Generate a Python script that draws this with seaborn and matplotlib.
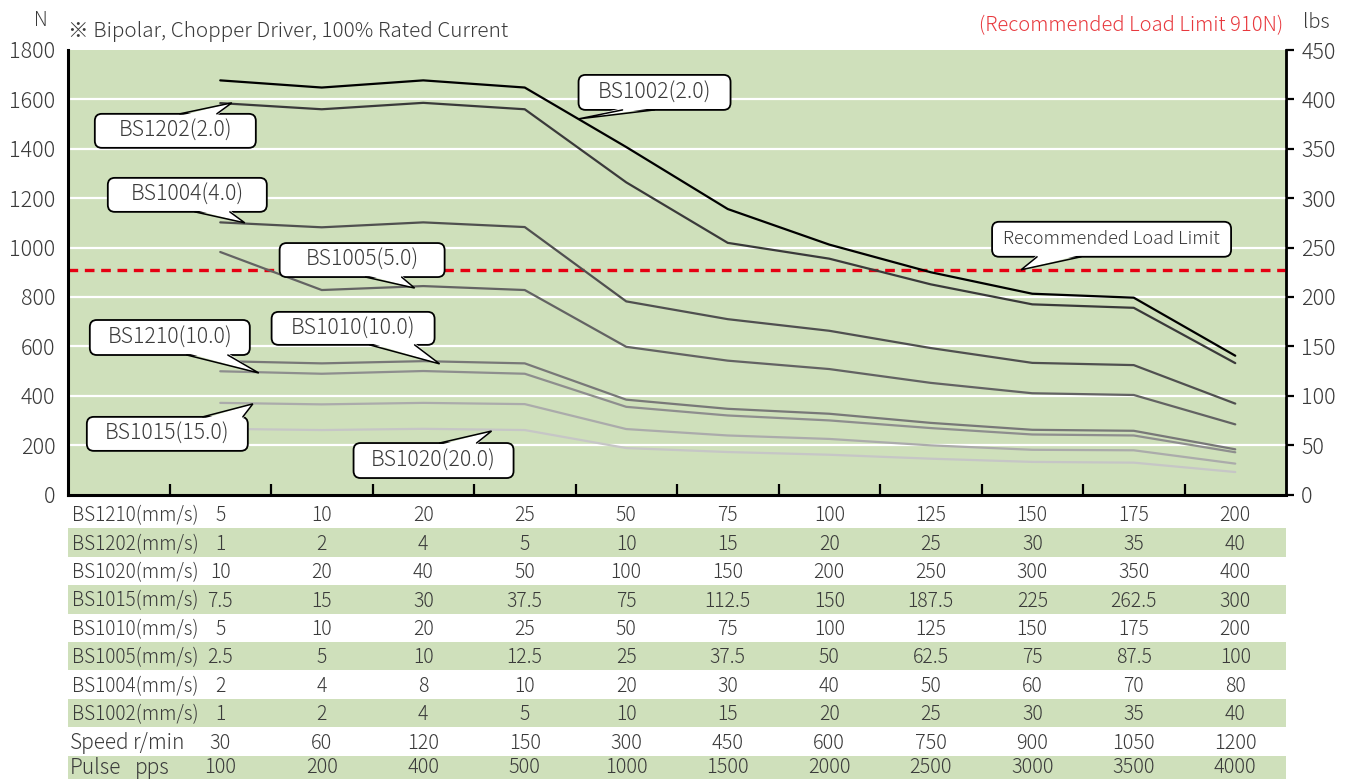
import numpy as np
import pandas as pd
import matplotlib
matplotlib.use("Agg")
import matplotlib.pyplot as plt
import seaborn as sns
from matplotlib.patches import FancyBboxPatch, Polygon
from matplotlib.lines import Line2D
from matplotlib.transforms import IdentityTransform

sns.set_theme(style="white")
plt.rcParams['font.family'] = ['Noto Sans CJK JP', 'DejaVu Sans']
plt.rcParams['font.weight'] = 'light'

# ---- data (thrust in N) ----
speed_cols = ["5", "10", "20", "25", "50", "75", "100", "125", "150", "175", "200"]
models = ["BS1002(2.0)", "BS1202(2.0)", "BS1004(4.0)", "BS1005(5.0)",
          "BS1010(10.0)", "BS1210(10.0)", "BS1015(15.0)", "BS1020(20.0)"]
bs1002 = [1677, 1648, 1677, 1648, 1407, 1156, 1012, 900, 813, 797, 562]
bs1202 = [1585, 1560, 1586, 1560, 1264, 1019, 955, 851, 770, 756, 532]
bs1004 = [1102, 1082, 1102, 1083, 782, 710, 663, 593, 533, 524, 368]
bs1005 = [982, 828, 844, 828, 598, 542, 508, 452, 410, 403, 284]
bs1010 = [540, 531, 540, 531, 384, 347, 327, 290, 262, 258, 183]
bs1210 = [499, 489, 500, 489, 355, 320, 300, 269, 243, 239, 171]
bs1015 = [371, 365, 371, 366, 265, 239, 225, 199, 181, 179, 125]
bs1020 = [266, 261, 266, 261, 188, 172, 161, 145, 132, 129, 91]
load_limit = 910

row_labels = ["BS1210(mm/s)", "BS1202(mm/s)", "BS1020(mm/s)", "BS1015(mm/s)",
              "BS1010(mm/s)", "BS1005(mm/s)", "BS1004(mm/s)", "BS1002(mm/s)"]
row_values = [
    ["5", "10", "20", "25", "50", "75", "100", "125", "150", "175", "200"],
    ["1", "2", "4", "5", "10", "15", "20", "25", "30", "35", "40"],
    ["10", "20", "40", "50", "100", "150", "200", "250", "300", "350", "400"],
    ["7.5", "15", "30", "37.5", "75", "112.5", "150", "187.5", "225", "262.5", "300"],
    ["5", "10", "20", "25", "50", "75", "100", "125", "150", "175", "200"],
    ["2.5", "5", "10", "12.5", "25", "37.5", "50", "62.5", "75", "87.5", "100"],
    ["2", "4", "8", "10", "20", "30", "40", "50", "60", "70", "80"],
    ["1", "2", "4", "5", "10", "15", "20", "25", "30", "35", "40"],
]
speed_rpm = ["30", "60", "120", "150", "300", "450", "600", "750", "900", "1050", "1200"]
pulse_pps = ["100", "200", "400", "500", "1000", "1500", "2000", "2500", "3000", "3500", "4000"]

colors = ["#000000", "#3a3a3a", "#505050", "#636363", "#787878", "#8e8e8e", "#ababab", "#c6c6c6"]
GREEN = "#cfe0bb"
TXT = "#3a3a3a"

series = [bs1002, bs1202, bs1004, bs1005, bs1010, bs1210, bs1015, bs1020]
pos = np.arange(1, len(speed_cols) + 1)
df = pd.concat([pd.DataFrame({"pos": pos, "N": s, "model": m}) for m, s in zip(models, series)])

fig = plt.figure(figsize=(13.54, 7.79), dpi=100)
L, R, B, T = 68 / 1354, 1286 / 1354, 1 - 494.5 / 779, 1 - 50 / 779
ax = fig.add_axes([L, B, R - L, T - B])
ax.set_facecolor(GREEN)

for y in range(200, 1800, 200):
    ax.axhline(y, color="white", lw=1.6, zorder=1)
ax.axhline(load_limit, color="#e60012", lw=2.4, dashes=(2.9, 2.0), zorder=2)

sns.lineplot(data=df, x="pos", y="N", hue="model", hue_order=models,
             palette=dict(zip(models, colors)), linewidth=1.6, legend=False,
             ax=ax, zorder=3)

ax.set_xlim(-0.5, 11.5)
ax.set_ylim(0, 1800)
ax.set_xlabel("")
ax.set_ylabel("")
ax.set_xticks(np.arange(0.5, 11, 1))
ax.set_xticklabels([])
ax.tick_params(axis="x", direction="in", length=8, width=1.6, color="black", bottom=True)
ax.set_yticks(range(0, 1801, 200))
ax.tick_params(axis="y", length=0, pad=9, labelsize=15.5, labelcolor=TXT)
for s in ["left", "bottom"]:
    ax.spines[s].set_color("black")
    ax.spines[s].set_linewidth(2.2)
ax.spines["top"].set_visible(False)
ax.spines["right"].set_color("black")
ax.spines["right"].set_linewidth(1.8)

sec = ax.secondary_yaxis("right", functions=(lambda v: v / 4, lambda v: v * 4))
sec.set_yticks(range(0, 451, 50))
sec.tick_params(length=6, width=1.6, pad=5, labelsize=15.5, labelcolor=TXT, color="black")
sec.spines["right"].set_linewidth(1.8)

# callouts: label, tip (data), box (left, top, right, bottom) in px from tip (y down),
# pointer base x-range in px from tip, font size
callouts = [
    ("BS1202(2.0)", (1.114, 1586), (-137, 11, 24, 45), (-52, -15), 15.3),
    ("BS1002(2.0)", (4.53, 1521), (0, -44, 152, -9), (44, 76), 15.3),
    ("BS1004(4.0)", (1.242, 1100), (-137, -45, 22, -11), (-50, -15), 15.3),
    ("BS1005(5.0)", (2.915, 836), (-135, -45, 30, -11), (-49, -13), 15.3),
    ("BS1210(10.0)", (1.38, 492), (-169, -53, -9, -18), (-72, -31), 15.3),
    ("BS1010(10.0)", (3.161, 529), (-168, -52, -5, -19), (-70, -25), 15.3),
    ("BS1015(15.0)", (1.321, 367), (-166, 13, -5, 47), (-50, -10), 15.3),
    ("BS1020(20.0)", (3.673, 257), (-138, 12, 22, 47), (-52, -15), 15.3),
    ("Recommended Load Limit", (8.89, load_limit), (-29, -48, 210, -13), (16, 60), 13.1),
]
ident = IdentityTransform()
for text, tip, (l, t, r, b), (bx0, bx1), fs in callouts:
    X, Y = ax.transData.transform(tip)
    box = FancyBboxPatch((X + l, Y - b), r - l, b - t, boxstyle="round,pad=0,rounding_size=7",
                         fc="white", ec="black", lw=1.3, transform=ident, zorder=5)
    fig.add_artist(box)
    edge = Y - t if t > 0 else Y - b
    inner = edge - 2 if t > 0 else edge + 2
    fig.add_artist(Polygon([(X + bx0, inner), (X, Y), (X + bx1, inner)], closed=True,
                           fc="white", ec="none", transform=ident, zorder=6))
    fig.add_artist(Line2D([X + bx0, X, X + bx1], [edge, Y, edge], color="black", lw=1.1,
                          solid_joinstyle="miter", transform=ident, zorder=6.5))
    fig.text(X + (l + r) / 2, Y - (t + b) / 2, text, transform=ident, ha="center",
             va="center", fontsize=fs, color=TXT, zorder=7)

# header texts
fig.text(48 / 1354, 1 - 20 / 779, "N", ha="right", va="center", fontsize=14, color=TXT)
fig.text(68 / 1354, 1 - 31 / 779, "※ Bipolar, Chopper Driver, 100% Rated Current",
         ha="left", va="center", fontsize=14.9, color=TXT)
fig.text(1283 / 1354, 1 - 26 / 779, "(Recommended Load Limit 910N)",
         ha="right", va="center", fontsize=14.5, color="#e8383d")
fig.text(1303 / 1354, 1 - 22 / 779, "lbs", ha="left", va="center", fontsize=14.5, color=TXT)

# speed table below the chart
tab = fig.add_axes([L, 1 - 784 / 779, R - L, 284 / 779])
tab.set_xlim(-0.5, 11.5)
tab.set_ylim(10, 0)
tab.axis("off")
for i in range(1, 10, 2):
    tab.axhspan(i, i + 1, color=GREEN, lw=0)
ty = 0.56  # text centre inside a row
for i, (lab, vals) in enumerate(zip(row_labels, row_values)):
    tab.text(-0.46, i + ty, lab, ha="left", va="center", fontsize=13.7, color=TXT)
    for j, v in enumerate(vals):
        tab.text(j + 1, i + ty, v, ha="center", va="center", fontsize=14, color=TXT)
tab.text(-0.485, 8 + ty, "Speed", ha="left", va="center", fontsize=15, color=TXT)
tab.text(0.14, 8 + ty, "r/min", ha="left", va="center", fontsize=15, color=TXT)
tab.text(-0.485, 9.42, "Pulse", ha="left", va="center", fontsize=15, color=TXT)
tab.text(0.155, 9.42, "pps", ha="left", va="center", fontsize=15, color=TXT)
for j in range(len(speed_cols)):
    tab.text(j + 1, 8 + ty, speed_rpm[j], ha="center", va="center", fontsize=14.3, color=TXT)
    tab.text(j + 1, 9.42, pulse_pps[j], ha="center", va="center", fontsize=14.3, color=TXT)

fig.savefig("out.png", dpi=100)
